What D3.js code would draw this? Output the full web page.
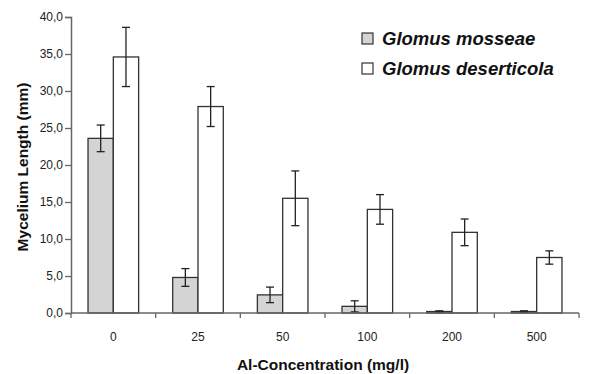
<!DOCTYPE html>
<html>
<head>
<meta charset="utf-8">
<script src="https://cdn.jsdelivr.net/npm/d3@7"></script>
<style>
  body { margin: 0; background: #fff; }
  svg { display: block; font-family: "Liberation Sans", Arial, sans-serif; }
</style>
</head>
<body>
<div id="chart"></div>
<script>
// Al concentration categories (mg/l)
var categories = ["0", "25", "50", "100", "200", "500"];
var seriesNames = ["Glomus mosseae", "Glomus deserticola"];
// mean mycelium length (mm)
var mosseae = [23.6, 4.8, 2.45, 0.9, 0.2, 0.2];
var deserticola = [34.6, 27.9, 15.5, 14.0, 10.9, 7.5];
// error (+/-)
var mosseaeErr = [1.8, 1.2, 1.05, 0.75, 0.1, 0.1];
var deserticolaErr = [4.0, 2.7, 3.7, 2.0, 1.8, 0.9];
var yTicks = [0, 5, 10, 15, 20, 25, 30, 35, 40];

var width = 593, height = 374;
var margin = {top: 17, right: 14, bottom: 61, left: 71};

var svg = d3.select("#chart").append("svg")
  .attr("width", width)
  .attr("height", height);

var x = d3.scaleBand()
  .domain(categories)
  .range([margin.left, width - margin.right])
  .padding(0);

var xInner = d3.scaleBand()
  .domain(seriesNames)
  .range([0, x.bandwidth()])
  .paddingInner(0)
  .paddingOuter(0.673);

var y = d3.scaleLinear()
  .domain([0, 40])
  .range([height - margin.bottom, margin.top]);

var fills = {"Glomus mosseae": "#d4d4d4", "Glomus deserticola": "#ffffff"};

var rows = [];
categories.forEach(function(c, i) {
  rows.push({cat: c, s: seriesNames[0], v: mosseae[i], e: mosseaeErr[i]});
  rows.push({cat: c, s: seriesNames[1], v: deserticola[i], e: deserticolaErr[i]});
});

// bars
svg.append("g").selectAll("rect")
  .data(rows)
  .enter().append("rect")
  .attr("x", function(d) { return x(d.cat) + xInner(d.s); })
  .attr("y", function(d) { return y(d.v); })
  .attr("width", xInner.bandwidth())
  .attr("height", function(d) { return y(0) - y(d.v); })
  .attr("fill", function(d) { return fills[d.s]; })
  .attr("stroke", "#333")
  .attr("stroke-width", 1.3);

// error bars
var err = svg.append("g")
  .attr("stroke", "#222")
  .attr("stroke-width", 1.3);
rows.forEach(function(d) {
  var cx = x(d.cat) + xInner(d.s) + xInner.bandwidth() / 2;
  var capW = 4;
  var lo = Math.max(0, d.v - d.e);
  err.append("line").attr("x1", cx).attr("x2", cx)
    .attr("y1", y(d.v + d.e)).attr("y2", y(lo));
  err.append("line").attr("x1", cx - capW).attr("x2", cx + capW)
    .attr("y1", y(d.v + d.e)).attr("y2", y(d.v + d.e));
  err.append("line").attr("x1", cx - capW).attr("x2", cx + capW)
    .attr("y1", y(lo)).attr("y2", y(lo));
});

// y axis
var yAxis = d3.axisLeft(y)
  .tickValues(yTicks)
  .tickSize(6)
  .tickPadding(2)
  .tickFormat(function(d) { return d3.format(".1f")(d).replace(".", ","); });
var gy = svg.append("g")
  .attr("transform", "translate(" + margin.left + ",0)")
  .call(yAxis);
gy.select(".domain").attr("stroke", "#666").attr("stroke-width", 1.5);
gy.selectAll(".tick line").attr("stroke", "#666").attr("stroke-width", 1.3);
gy.selectAll(".tick text")
  .attr("fill", "#222")
  .style("font-size", "12px");

// x axis: baseline with ticks at category boundaries
var gx = svg.append("g");
gx.append("line")
  .attr("x1", margin.left).attr("x2", width - margin.right)
  .attr("y1", y(0)).attr("y2", y(0))
  .attr("stroke", "#666").attr("stroke-width", 1.5);
var bounds = categories.map(function(c) { return x(c); }).concat([x.range()[1]]);
gx.selectAll(".btick")
  .data(bounds)
  .enter().append("line")
  .attr("x1", function(d) { return d; }).attr("x2", function(d) { return d; })
  .attr("y1", y(0)).attr("y2", y(0) + 5)
  .attr("stroke", "#666").attr("stroke-width", 1.3);
gx.selectAll(".xlab")
  .data(categories)
  .enter().append("text")
  .attr("x", function(d) { return x(d) + x.bandwidth() / 2; })
  .attr("y", y(0) + 28)
  .attr("text-anchor", "middle")
  .attr("fill", "#222")
  .style("font-size", "12px")
  .text(function(d) { return d; });

// axis titles
svg.append("text")
  .attr("x", 323)
  .attr("y", 370)
  .attr("text-anchor", "middle")
  .style("font-size", "15.5px")
  .style("font-weight", "bold")
  .attr("fill", "#111")
  .text("Al-Concentration (mg/l)");

svg.append("text")
  .attr("transform", "translate(28," + (margin.top + (y(0) - margin.top) / 2 + 2) + ") rotate(-90)")
  .attr("text-anchor", "middle")
  .style("font-size", "15.5px")
  .style("font-weight", "bold")
  .attr("fill", "#111")
  .text("Mycelium Length (mm)");

// legend
var legend = svg.append("g").attr("transform", "translate(362,33)");
seriesNames.forEach(function(s, i) {
  var g = legend.append("g").attr("transform", "translate(0," + (i * 30) + ")");
  g.append("rect")
    .attr("width", 11).attr("height", 11)
    .attr("fill", fills[s])
    .attr("stroke", "#333").attr("stroke-width", 1.2);
  g.append("text")
    .attr("x", 20).attr("y", 12)
    .style("font-size", "18.5px")
    .style("font-weight", "bold")
    .style("font-style", "italic")
    .attr("fill", "#111")
    .text(s);
});
</script>
</body>
</html>
